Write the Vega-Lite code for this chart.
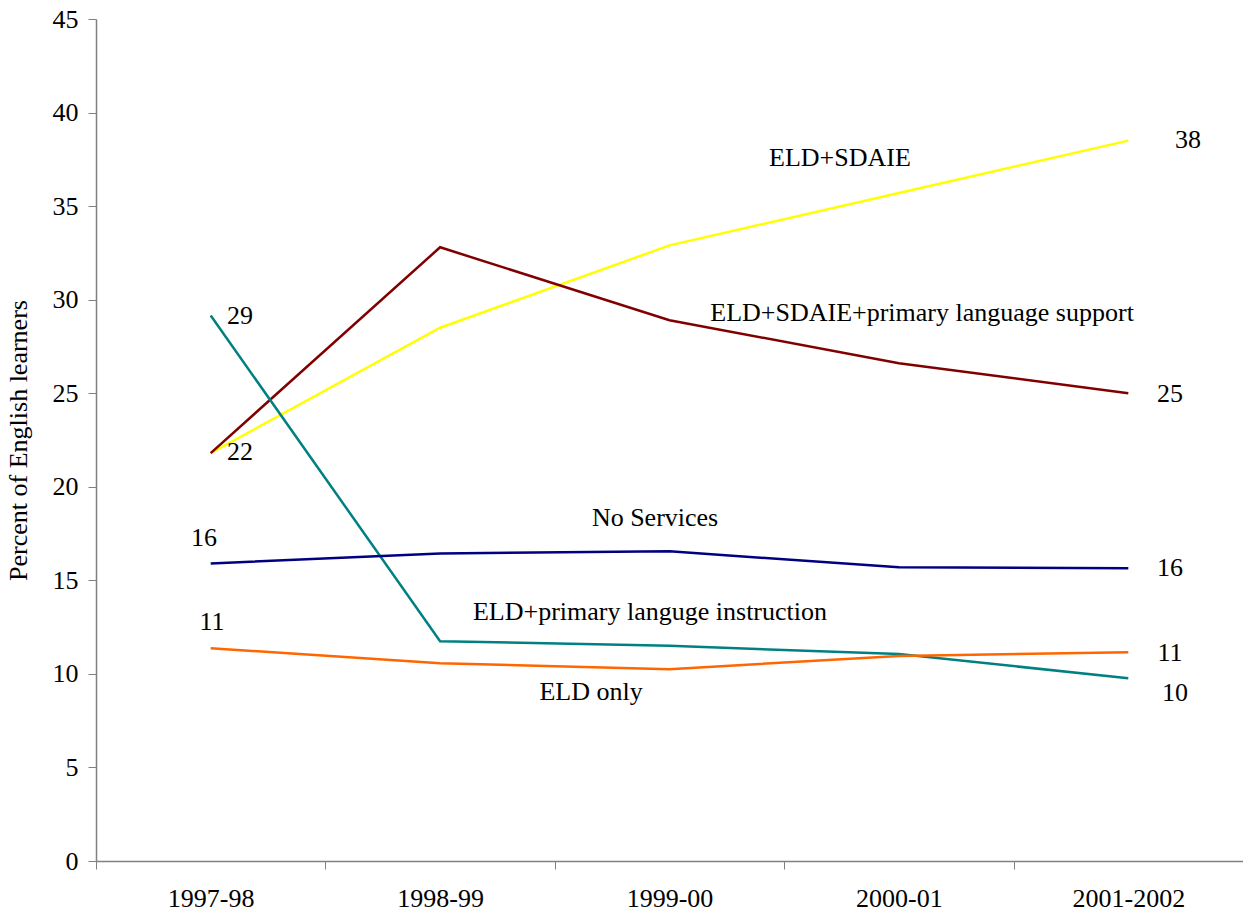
{
  "$schema": "https://vega.github.io/schema/vega-lite/v6.json",
  "width": 1147,
  "height": 842,
  "autosize": {"type": "none"},
  "padding": {"left": 96, "top": 19, "right": 0, "bottom": 52},
  "config": {
    "view": {"stroke": null},
    "font": "Liberation Serif",
    "axis": {"labelFont": "Liberation Serif", "titleFont": "Liberation Serif"},
    "text": {"font": "Liberation Serif"}
  },
  "datasets": {
    "series": [
      {"year": "1997-98", "program": "ELD+SDAIE", "percent": 21.8},
      {"year": "1998-99", "program": "ELD+SDAIE", "percent": 28.5},
      {"year": "1999-00", "program": "ELD+SDAIE", "percent": 32.9},
      {"year": "2000-01", "program": "ELD+SDAIE", "percent": 35.7},
      {"year": "2001-2002", "program": "ELD+SDAIE", "percent": 38.5},
      {"year": "1997-98", "program": "ELD+SDAIE+primary language support", "percent": 21.8},
      {"year": "1998-99", "program": "ELD+SDAIE+primary language support", "percent": 32.8},
      {"year": "1999-00", "program": "ELD+SDAIE+primary language support", "percent": 28.9},
      {"year": "2000-01", "program": "ELD+SDAIE+primary language support", "percent": 26.6},
      {"year": "2001-2002", "program": "ELD+SDAIE+primary language support", "percent": 25.0},
      {"year": "1997-98", "program": "ELD+primary language instruction", "percent": 29.15},
      {"year": "1998-99", "program": "ELD+primary language instruction", "percent": 11.75},
      {"year": "1999-00", "program": "ELD+primary language instruction", "percent": 11.5},
      {"year": "2000-01", "program": "ELD+primary language instruction", "percent": 11.06},
      {"year": "2001-2002", "program": "ELD+primary language instruction", "percent": 9.77},
      {"year": "1997-98", "program": "No Services", "percent": 15.9},
      {"year": "1998-99", "program": "No Services", "percent": 16.44},
      {"year": "1999-00", "program": "No Services", "percent": 16.55},
      {"year": "2000-01", "program": "No Services", "percent": 15.7},
      {"year": "2001-2002", "program": "No Services", "percent": 15.64},
      {"year": "1997-98", "program": "ELD only", "percent": 11.37},
      {"year": "1998-99", "program": "ELD only", "percent": 10.57},
      {"year": "1999-00", "program": "ELD only", "percent": 10.25},
      {"year": "2000-01", "program": "ELD only", "percent": 10.96},
      {"year": "2001-2002", "program": "ELD only", "percent": 11.16}
    ],
    "notes": [
      {"label": "ELD+SDAIE", "pos": 2.743, "value": 37.57},
      {"label": "ELD+SDAIE+primary language support", "pos": 3.101, "value": 29.29},
      {"label": "No Services", "pos": 1.937, "value": 18.33},
      {"label": "ELD+primary languge instruction", "pos": 1.915, "value": 13.31},
      {"label": "ELD only", "pos": 1.658, "value": 9.03},
      {"label": "38", "pos": 4.26, "value": 38.54},
      {"label": "25", "pos": 4.182, "value": 24.96},
      {"label": "16", "pos": 4.182, "value": 15.66},
      {"label": "11", "pos": 4.182, "value": 11.12},
      {"label": "10", "pos": 4.204, "value": 8.98},
      {"label": "29", "pos": 0.128, "value": 29.13},
      {"label": "22", "pos": 0.128, "value": 21.86},
      {"label": "16", "pos": -0.029, "value": 17.26},
      {"label": "11", "pos": 0.006, "value": 12.77}
    ]
  },
  "layer": [
    {
      "data": {"name": "series"},
      "mark": {"type": "line", "strokeWidth": 2.5},
      "encoding": {
        "x": {
          "field": "year",
          "type": "ordinal",
          "bandPosition": 0.5,
          "sort": ["1997-98", "1998-99", "1999-00", "2000-01", "2001-2002"],
          "scale": {"type": "band", "paddingInner": 0, "paddingOuter": 0},
          "axis": {
            "title": null,
            "tickBand": "extent",
            "labelAngle": 0,
            "labelFontSize": 26,
            "labelColor": "#000000",
            "labelPadding": 16,
            "tickSize": 8,
            "tickColor": "#808080",
            "domainColor": "#808080",
            "domainWidth": 1.5,
            "grid": false
          }
        },
        "y": {
          "field": "percent",
          "type": "quantitative",
          "scale": {"domain": [0, 45], "nice": false},
          "axis": {
            "title": "Percent of English learners",
            "titleFontSize": 26,
            "titleFontWeight": "normal",
            "titleColor": "#000000",
            "titleX": -78,
            "titleBaseline": "middle",
            "values": [0, 5, 10, 15, 20, 25, 30, 35, 40, 45],
            "labelFontSize": 26,
            "labelColor": "#000000",
            "labelPadding": 10,
            "tickSize": 8,
            "tickColor": "#808080",
            "domainColor": "#808080",
            "domainWidth": 1.5,
            "grid": false
          }
        },
        "color": {
          "field": "program",
          "type": "nominal",
          "scale": {
            "domain": ["ELD+SDAIE", "ELD+SDAIE+primary language support", "ELD+primary language instruction", "No Services", "ELD only"],
            "range": ["#FFFF00", "#800000", "#008080", "#000080", "#FF6600"]
          },
          "legend": null
        }
      }
    },
    {
      "data": {"name": "notes"},
      "mark": {"type": "text", "fontSize": 26, "baseline": "middle", "align": "center", "color": "#000000"},
      "encoding": {
        "x": {"field": "pos", "type": "quantitative", "scale": {"domain": [-0.5, 4.5], "nice": false, "zero": false}, "axis": null},
        "y": {"field": "value", "type": "quantitative"},
        "text": {"field": "label"}
      }
    }
  ],
  "resolve": {"scale": {"x": "independent"}}
}
